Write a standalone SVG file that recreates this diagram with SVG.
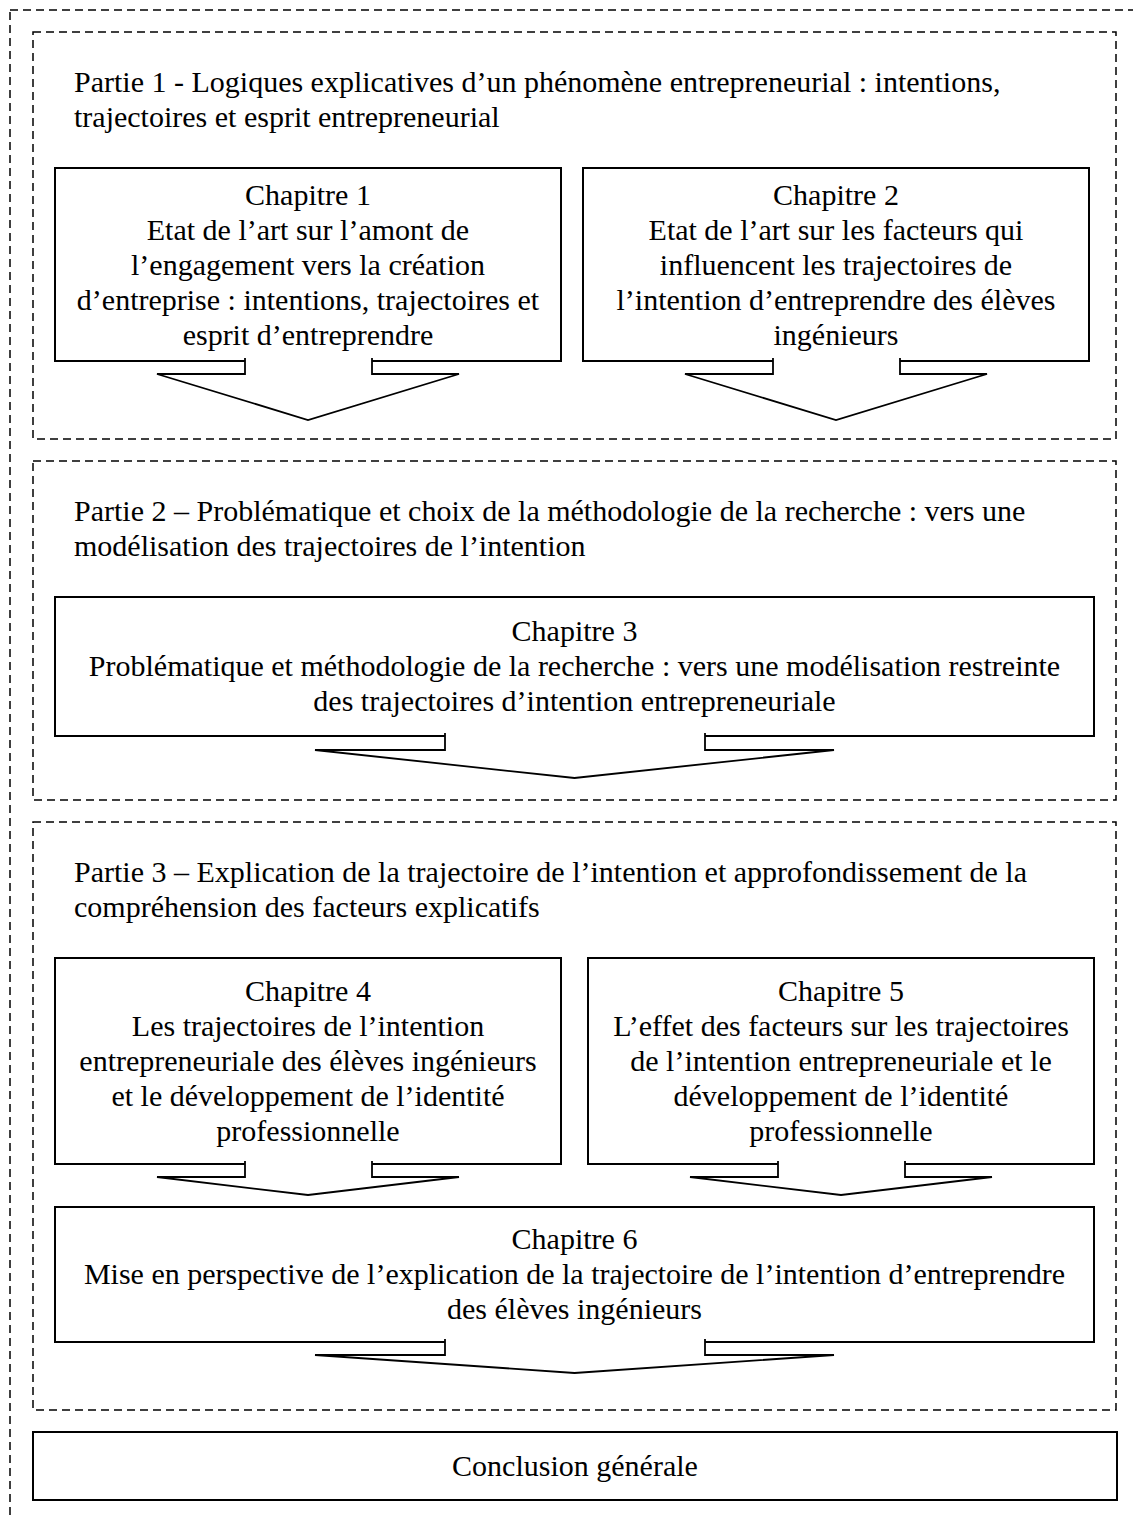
<svg xmlns="http://www.w3.org/2000/svg" width="1133" height="1519" viewBox="0 0 1133 1519">
<style>
text{font-family:"Liberation Serif","Times New Roman",serif;font-size:30px;fill:#000}
.c{text-anchor:middle}
.dash{fill:none;stroke:#000;stroke-width:1.5;stroke-dasharray:8 5}
.box{fill:#fff;stroke:#000;stroke-width:2}
.arr{fill:#fff;stroke:#000;stroke-width:1.8;stroke-linejoin:miter}
</style>
<rect width="1133" height="1519" fill="#fff"/>
<g id="outer"><rect class="dash" x="10" y="10" width="1140" height="1530"/></g>
<g id="partie1">
<rect class="dash" x="33" y="32" width="1083" height="407"/>
<text x="74" y="92">Partie 1 - Logiques explicatives d’un phénomène entrepreneurial : intentions,</text>
<text x="74" y="127">trajectoires et esprit entrepreneurial</text>
</g>
<g id="partie2">
<rect class="dash" x="33" y="461" width="1083" height="339"/>
<text x="74" y="521">Partie 2 – Problématique et choix de la méthodologie de la recherche : vers une</text>
<text x="74" y="556">modélisation des trajectoires de l’intention</text>
</g>
<g id="partie3">
<rect class="dash" x="33" y="822" width="1083" height="588"/>
<text x="74" y="882">Partie 3 – Explication de la trajectoire de l’intention et approfondissement de la</text>
<text x="74" y="917">compréhension des facteurs explicatifs</text>
</g>
<g id="chapitre1">
<rect class="box" x="55" y="168" width="506" height="193"/>
<text class="c" x="308" y="205">Chapitre 1</text>
<text class="c" x="308" y="240">Etat de l’art sur l’amont de</text>
<text class="c" x="308" y="275">l’engagement vers la création</text>
<text class="c" x="308" y="310">d’entreprise : intentions, trajectoires et</text>
<text class="c" x="308" y="345">esprit d’entreprendre</text>
</g>
<g id="chapitre2">
<rect class="box" x="583" y="168" width="506" height="193"/>
<text class="c" x="836" y="205">Chapitre 2</text>
<text class="c" x="836" y="240">Etat de l’art sur les facteurs qui</text>
<text class="c" x="836" y="275">influencent les trajectoires de</text>
<text class="c" x="836" y="310">l’intention d’entreprendre des élèves</text>
<text class="c" x="836" y="345">ingénieurs</text>
</g>
<g id="chapitre3">
<rect class="box" x="55" y="597" width="1039" height="139"/>
<text class="c" x="574.5" y="641">Chapitre 3</text>
<text class="c" x="574.5" y="676">Problématique et méthodologie de la recherche : vers une modélisation restreinte</text>
<text class="c" x="574.5" y="711">des trajectoires d’intention entrepreneuriale</text>
</g>
<g id="chapitre4">
<rect class="box" x="55" y="958" width="506" height="206"/>
<text class="c" x="308" y="1001">Chapitre 4</text>
<text class="c" x="308" y="1036">Les trajectoires de l’intention</text>
<text class="c" x="308" y="1071">entrepreneuriale des élèves ingénieurs</text>
<text class="c" x="308" y="1106">et le développement de l’identité</text>
<text class="c" x="308" y="1141">professionnelle</text>
</g>
<g id="chapitre5">
<rect class="box" x="588" y="958" width="506" height="206"/>
<text class="c" x="841" y="1001">Chapitre 5</text>
<text class="c" x="841" y="1036">L’effet des facteurs sur les trajectoires</text>
<text class="c" x="841" y="1071">de l’intention entrepreneuriale et le</text>
<text class="c" x="841" y="1106">développement de l’identité</text>
<text class="c" x="841" y="1141">professionnelle</text>
</g>
<g id="chapitre6">
<rect class="box" x="55" y="1207" width="1039" height="135"/>
<text class="c" x="574.5" y="1249">Chapitre 6</text>
<text class="c" x="574.5" y="1284">Mise en perspective de l’explication de la trajectoire de l’intention d’entreprendre</text>
<text class="c" x="574.5" y="1319">des élèves ingénieurs</text>
</g>
<g id="conclusion">
<rect class="box" x="33" y="1432" width="1084" height="68"/>
<text class="c" x="575" y="1476">Conclusion générale</text>
</g>
<g id="connectors">
<path class="arr" d="M245,358 V374 H157 L308,420 L459,374 H372 V358"/>
<path class="arr" d="M773,358 V374 H685 L836,420 L987,374 H900 V358"/>
<path class="arr" d="M445,733 V750 H315 L574.5,778 L834,750 H705 V733"/>
<path class="arr" d="M245,1161 V1177 H157 L308,1195 L459,1177 H372 V1161"/>
<path class="arr" d="M778,1161 V1177 H690 L841,1195 L992,1177 H905 V1161"/>
<path class="arr" d="M445,1339 V1355 H315 L574.5,1373 L834,1355 H705 V1339"/>
</g>
</svg>
